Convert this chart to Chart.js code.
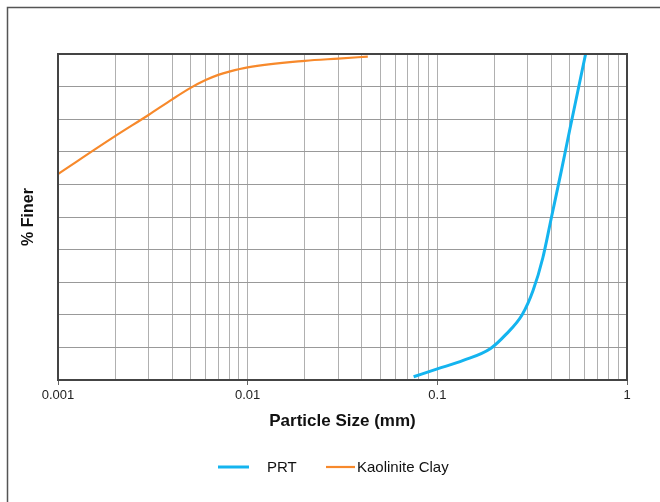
<!DOCTYPE html>
<html lang="en">
  <head>
    <meta charset="UTF-8" />
    <title>Particle Size Distribution</title>
    <script src="https://cdn.jsdelivr.net/npm/chart.js"></script>
    <style>
      body {
        margin: 0;
        background: #ffffff;
      }
      #wrap {
        width: 660px;
        height: 502px;
      }
    </style>
  </head>
  <body>
    <div id="wrap">
      <canvas id="gradationChart" width="660" height="502"></canvas>
    </div>

    <script>
      // Grain size (mm) and percent finer for each sample
      const prtSize = [0.075, 0.1, 0.137, 0.19, 0.23, 0.28, 0.32, 0.36, 0.4, 0.45, 0.5, 0.55, 0.605];
      const prtFiner = [1, 3.4, 6.0, 9.6, 14, 20, 27.5, 37.5, 50, 64, 77, 88.5, 100];

      const claySize = [0.001, 0.002, 0.003, 0.004, 0.005, 0.006, 0.007, 0.008, 0.01, 0.02, 0.03, 0.043];
      const clayFiner = [63.2, 74.8, 81.3, 86.1, 89.6, 92.0, 93.6, 94.6, 95.9, 97.9, 98.6, 99.2];

      // Labelled decades on the size axis; gridlines go at 1..9 of each
      const decades = [0.001, 0.01, 0.1, 1];
      const multipliers = [1, 2, 3, 4, 5, 6, 7, 8, 9];

      const seriesLabels = ['PRT', 'Kaolinite Clay'];
      const seriesColors = ['#14b4ef', '#f7892b'];

      function toPoints(xs, ys) {
        return xs.map((x, i) => ({ x: x, y: ys[i] }));
      }

      const FONT = "'Liberation Sans', Arial, sans-serif";

      // outer frame + box around plot area + legend row
      const decorPlugin = {
        id: 'decor',
        beforeDraw(chart) {
          const ctx = chart.ctx;
          ctx.save();
          ctx.strokeStyle = '#555';
          ctx.lineWidth = 1.5;
          ctx.strokeRect(7.5, 7.5, 700, 600);
          ctx.restore();
        },
        afterDraw(chart) {
          const ctx = chart.ctx;
          const a = chart.chartArea;
          ctx.save();
          ctx.strokeStyle = '#444';
          ctx.lineWidth = 2;
          ctx.strokeRect(a.left, a.top, a.right - a.left, a.bottom - a.top);

          // legend
          const items = [
            { x0: 218, x1: 249, tx: 267 },
            { x0: 326, x1: 355, tx: 357 }
          ];
          const y = 467;
          ctx.font = '15px ' + FONT;
          ctx.textBaseline = 'middle';
          chart.data.datasets.forEach((ds, i) => {
            const it = items[i];
            ctx.strokeStyle = ds.borderColor;
            ctx.lineWidth = ds.borderWidth;
            ctx.beginPath();
            ctx.moveTo(it.x0, y);
            ctx.lineTo(it.x1, y);
            ctx.stroke();
            ctx.fillStyle = '#111';
            ctx.fillText(ds.label, it.tx, y + 1);
          });
          ctx.restore();
        }
      };

      new Chart(document.getElementById('gradationChart'), {
        type: 'line',
        data: {
          datasets: [
            {
              label: seriesLabels[0],
              data: toPoints(prtSize, prtFiner),
              borderColor: seriesColors[0],
              borderWidth: 3,
              pointRadius: 0,
              cubicInterpolationMode: 'monotone',
              fill: false
            },
            {
              label: seriesLabels[1],
              data: toPoints(claySize, clayFiner),
              borderColor: seriesColors[1],
              borderWidth: 2.2,
              pointRadius: 0,
              cubicInterpolationMode: 'monotone',
              fill: false
            }
          ]
        },
        options: {
          responsive: false,
          animation: false,
          layout: { padding: { top: 54, right: 33, left: 0, bottom: 0 } },
          plugins: {
            legend: { display: false },
            tooltip: { enabled: false }
          },
          scales: {
            x: {
              type: 'logarithmic',
              min: 0.001,
              max: 1,
              afterFit(scale) {
                scale.height = 122;
              },
              afterBuildTicks(scale) {
                const ticks = [];
                decades.forEach((d, i) => {
                  if (i === decades.length - 1) {
                    ticks.push({ value: d });
                  } else {
                    multipliers.forEach(m => ticks.push({ value: +(d * m).toPrecision(3) }));
                  }
                });
                scale.ticks = ticks;
              },
              ticks: {
                autoSkip: false,
                maxRotation: 0,
                padding: 3,
                color: '#222',
                font: { family: FONT, size: 13 },
                callback(value) {
                  return decades.includes(value) ? String(value) : '';
                }
              },
              grid: {
                color: '#b0b0b0',
                lineWidth: 1,
                tickLength: 5,
                tickColor(ctx) {
                  return ctx.tick && decades.includes(ctx.tick.value) ? '#666' : 'rgba(0,0,0,0)';
                }
              },
              border: { color: '#444', width: 2 },
              title: {
                display: true,
                text: 'Particle Size (mm)',
                color: '#111',
                font: { family: FONT, size: 17, weight: 'bold' },
                padding: { top: 0, bottom: 70 }
              }
            },
            y: {
              min: 0,
              max: 100,
              afterFit(scale) {
                scale.width = 58;
              },
              ticks: { stepSize: 10, display: false },
              grid: { color: '#999', lineWidth: 1, drawTicks: false },
              border: { color: '#444', width: 2 },
              title: {
                display: true,
                text: '% Finer',
                color: '#111',
                font: { family: FONT, size: 16, weight: 'bold' },
                padding: { top: 19, bottom: 0 }
              }
            }
          }
        },
        plugins: [decorPlugin]
      });
    </script>
  </body>
</html>
